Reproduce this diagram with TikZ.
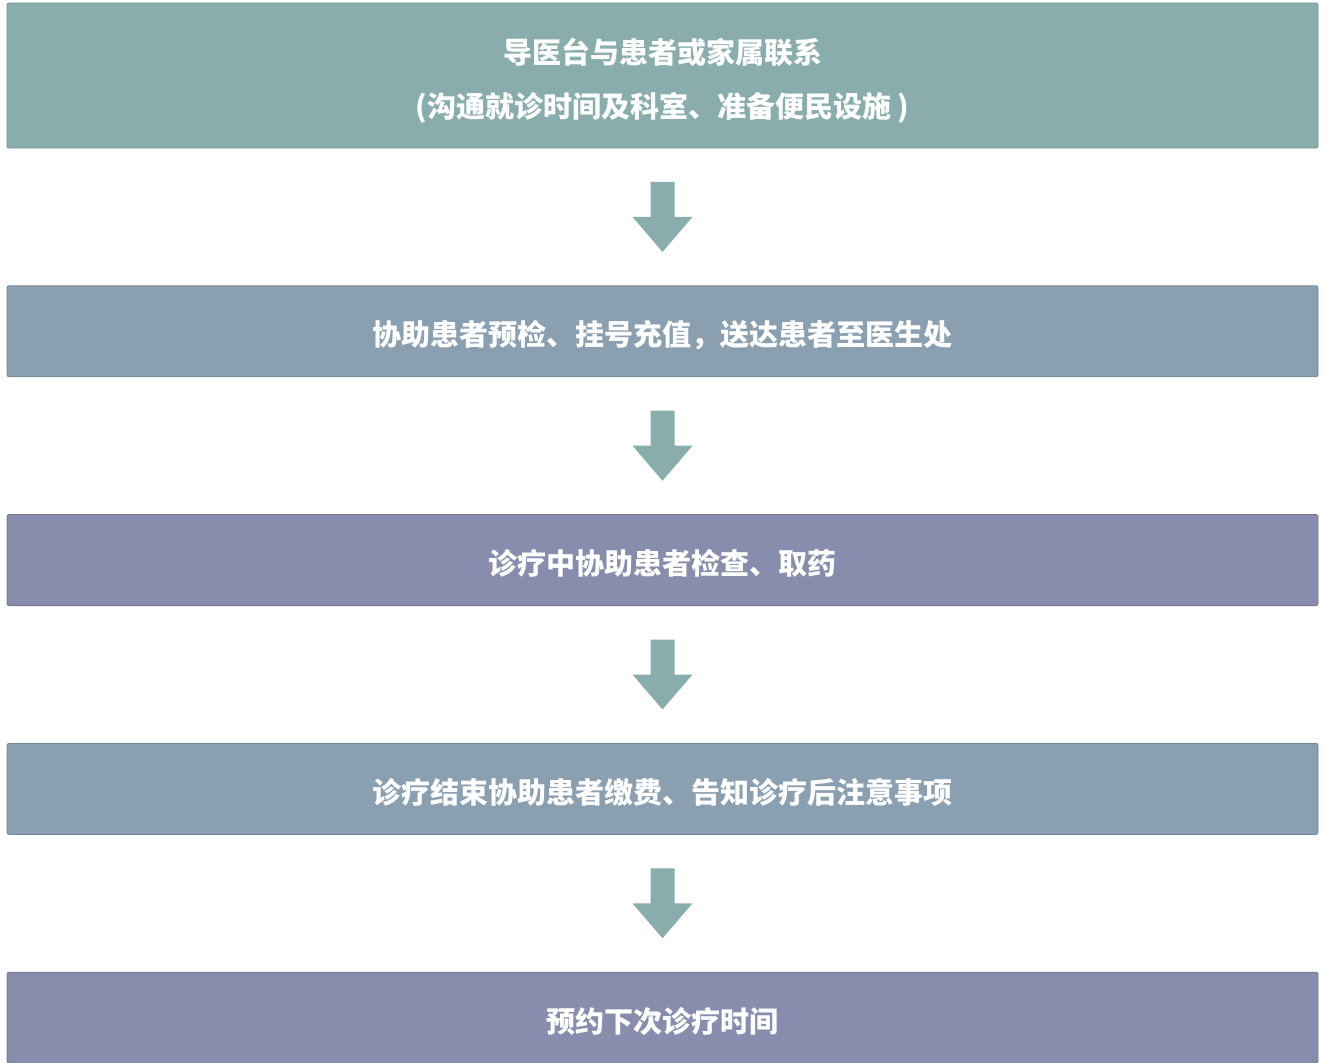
\documentclass[tikz,border=0pt]{standalone}
\usepackage{fontspec}
\usepackage{tikz}
\usetikzlibrary{positioning}
\usetikzlibrary{calc}
\newfontfamily\cjk{Noto Sans CJK SC}
\definecolor{tealbox}{HTML}{89ADAC}
\definecolor{steelbox}{HTML}{8A9FB0}
\definecolor{lilacbox}{HTML}{888DAD}
% block arrow pointing down, centred on a named coordinate
\newcommand{\blockdown}[1]{%
  \fill[tealbox] ($(#1)+(-6pt,17.5pt)$) -- ++(12pt,0) -- ++(0,-17.5pt) -- ++(9pt,0)
    -- ($(#1)+(0,-17.5pt)$) -- ($(#1)+(-15pt,0)$) -- ++(9pt,0) -- cycle;}

\begin{document}
\begin{tikzpicture}[
  box/.style={draw,line width=0.4pt,rounded corners=1pt,align=center,inner sep=0pt,
    minimum width=655.5pt,minimum height=45.5pt,text=white,
    text height=14.5pt,text depth=0pt,
    font=\cjk\bfseries\fontsize{14.5}{27}\selectfont},
  tb/.style={box,fill=tealbox,draw=tealbox!85!black},
  sb/.style={box,fill=steelbox,draw=steelbox!85!black},
  lb/.style={box,fill=lilacbox,draw=lilacbox!85!black}]

  \useasboundingbox[fill=white] (0,0) rectangle (662pt,-531pt);

  % the five steps, top to bottom
  \node[tb,minimum height=72.5pt,text height=41.5pt] (contact) at (331.25pt,-37.75pt)
    {导医台与患者或家属联系\\(沟通就诊时间及科室、准备便民设施 )};
  \node[sb, below=68.5pt of contact] (register) {协助患者预检、挂号充值，送达患者至医生处};
  \node[lb, below=68.5pt of register] (exam) {诊疗中协助患者检查、取药};
  \node[sb, below=68.5pt of exam] (pay) {诊疗结束协助患者缴费、告知诊疗后注意事项};
  \node[lb, below=68.5pt of pay] (next) {预约下次诊疗时间};

  % block arrows between the steps
  \coordinate (a1) at ($(contact.south)!0.5!(register.north)$);
  \coordinate (a2) at ($(register.south)!0.5!(exam.north)$);
  \coordinate (a3) at ($(exam.south)!0.5!(pay.north)$);
  \coordinate (a4) at ($(pay.south)!0.5!(next.north)$);
  \blockdown{a1}
  \blockdown{a2}
  \blockdown{a3}
  \blockdown{a4}
\end{tikzpicture}
\end{document}
